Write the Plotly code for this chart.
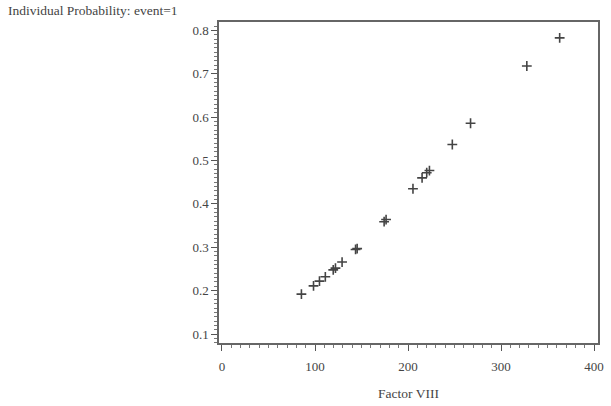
import plotly.graph_objects as go

factor_viii = [85.4, 98.4, 104.8, 111.1, 119.6, 122.0, 129.1, 143.6, 145.3, 174.3, 176.4,
               205.3, 215.1, 220.1, 223.0, 247.6, 267.2, 327.7, 363.0]
probability = [0.192, 0.211, 0.222, 0.232, 0.248, 0.252, 0.266, 0.295, 0.297, 0.359, 0.364,
               0.435, 0.460, 0.472, 0.477, 0.537, 0.586, 0.718, 0.783]

x_ticks = [0, 100, 200, 300, 400]
y_ticks = [0.1, 0.2, 0.3, 0.4, 0.5, 0.6, 0.7, 0.8]

font_family = "Liberation Serif"
ink = "#444444"

fig = go.Figure()
fig.add_trace(go.Scatter(
    x=factor_viii, y=probability, mode="markers",
    marker=dict(symbol="cross-thin", size=7, line=dict(width=1.6, color=ink), color=ink),
    showlegend=False,
))

fig.update_layout(
    width=611, height=406,
    margin=dict(l=219, r=7, t=22, b=62),
    paper_bgcolor="white", plot_bgcolor="white",
    font=dict(family=font_family, size=13, color=ink),
    xaxis=dict(
        range=[-3.2, 404.2], tickvals=x_ticks, ticktext=[str(v) for v in x_ticks],
        showgrid=False, zeroline=False, showline=True, mirror=True,
        linecolor="#666666", linewidth=1.5,
        ticks="outside", ticklen=6, tickcolor="#555555", tickwidth=1,
        minor=dict(dtick=10, ticks="outside", ticklen=3, tickcolor="#777777", showgrid=False),
        ticklabelstandoff=5,
        title=dict(text="Factor VIII", standoff=15, font=dict(size=13.5, family=font_family, color=ink)),
        tickfont=dict(size=13, family=font_family, color=ink),
    ),
    yaxis=dict(
        range=[0.0793, 0.8195], tickvals=y_ticks, ticktext=[f"{v:.1f}" for v in y_ticks],
        showgrid=False, zeroline=False, showline=True, mirror=True,
        linecolor="#666666", linewidth=1.5,
        ticks="outside", ticklen=6, tickcolor="#555555", tickwidth=1,
        minor=dict(dtick=0.01, ticks="outside", ticklen=3, tickcolor="#777777", showgrid=False),
        tickfont=dict(size=13, family=font_family, color=ink),
    ),
    annotations=[dict(
        text="Individual Probability: event=1", xref="paper", yref="paper",
        x=-0.5610, y=1.037, xanchor="left", yanchor="middle", showarrow=False,
        font=dict(size=13.5, family=font_family, color=ink),
    )],
)

fig.write_html("out.html")
